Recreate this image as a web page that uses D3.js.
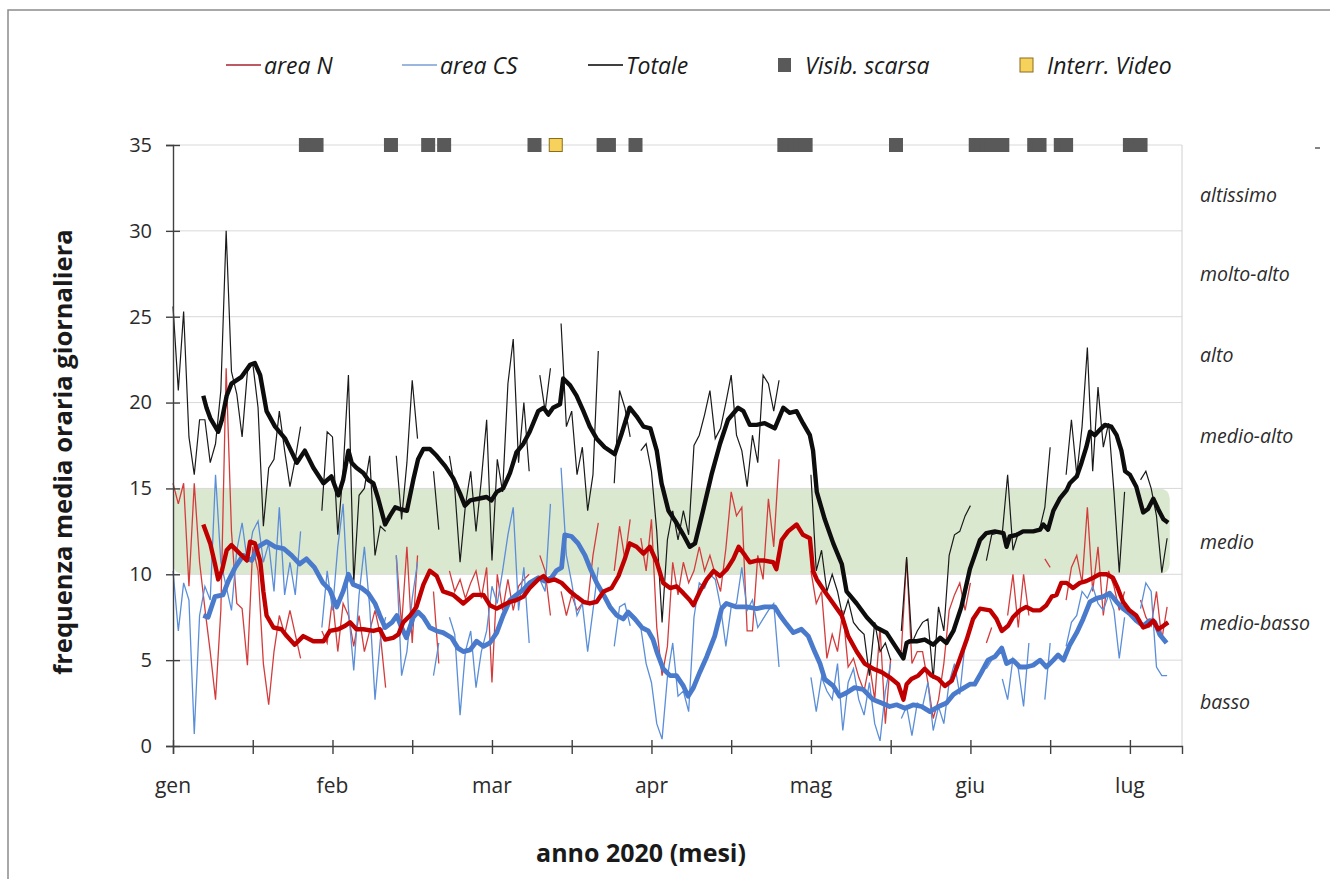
<!DOCTYPE html>
<html>
<head>
<meta charset="utf-8">
<script src="https://cdn.jsdelivr.net/npm/d3@7"></script>
<style>
  body { margin: 0; background: #fff; }
  svg { display: block; font-family: "Open Sans", sans-serif; }
</style>
</head>
<body>
<div id="chart"></div>
<script>

// giorni dal 1 gennaio (0 = gen), valori giornalieri grezzi, null = dato mancante
var areaN = [
  15.3,14.1,15.3,9.3,15.3,10.7,8.0,5.5,2.7,7.9,
  22.0,12.5,8.3,8.0,4.7,11.6,10.2,4.8,2.4,5.5,
  7.6,6.5,7.9,6.5,5.1,null,null,null,6.7,6.0,
  8.6,5.5,8.3,7.6,5.8,7.6,5.5,6.7,7.9,6.5,
  3.4,null,11.1,7.0,11.6,6.0,11.1,null,null,9.0,
  4.8,null,10.2,9.0,9.7,8.6,9.5,10.2,8.6,10.4,
  3.7,10.0,7.9,9.7,7.9,9.3,9.7,10.0,null,11.1,
  10.2,7.6,null,9.0,7.6,8.8,7.9,8.3,8.3,11.1,
  13.0,null,null,10.2,12.8,10.9,13.2,null,12.1,10.2,
  13.2,6.9,4.1,5.8,10.7,8.8,10.7,9.5,10.2,11.6,
  10.2,11.1,10.0,9.0,11.5,14.8,13.4,13.9,6.7,6.7,
  11.1,9.7,14.4,11.6,16.7,null,null,null,null,null,
  10.2,8.3,9.0,5.1,6.5,5.5,7.9,4.6,5.1,4.0,
  3.2,4.8,2.7,6.9,1.3,5.1,null,5.5,10.9,4.8,
  5.5,5.5,3.7,1.6,2.7,4.8,7.9,8.8,9.5,7.9,
  9.5,null,null,6.0,6.9,null,null,7.6,10.0,6.9,
  10.0,7.6,null,null,10.9,10.4,null,null,8.5,10.4,
  11.1,9.5,13.9,9.0,11.6,7.6,10.2,9.3,7.9,9.0,
  null,null,8.5,7.5,7.0,9.0,6.2,8.1
];

var areaCS = [
  10.2,6.7,9.5,8.5,0.7,7.6,9.3,8.5,15.8,10.7,
  9.3,7.9,11.4,13.0,10.7,12.5,13.1,10.7,11.8,9.0,
  13.9,8.8,10.7,8.8,12.5,null,null,null,6.9,10.2,
  7.9,11.6,14.1,8.0,4.4,8.8,11.6,8.1,2.7,6.2,
  7.5,null,11.1,4.1,5.5,8.6,10.7,null,null,4.1,
  6.0,null,7.5,6.5,1.8,5.5,6.7,3.4,5.5,6.7,
  9.3,8.3,10.2,12.3,13.9,7.9,10.4,6.0,null,9.7,
  9.0,14.1,null,16.2,11.1,9.5,7.6,8.3,5.5,7.9,
  10.4,null,null,5.8,8.1,8.3,7.0,null,6.9,4.8,
  3.7,1.3,0.4,4.0,6.0,2.9,3.2,2.0,7.5,9.5,
  9.2,10.0,9.7,8.1,5.8,8.1,8.3,10.4,7.9,8.5,
  6.9,7.4,7.9,8.3,4.6,null,null,null,null,null,
  4.0,2.0,4.0,3.2,2.7,4.8,0.9,3.7,4.5,2.7,
  1.8,3.7,1.3,0.3,3.2,4.8,null,1.6,2.3,0.6,
  2.5,2.3,3.7,0.9,2.3,1.3,3.7,4.8,3.0,6.0,
  6.7,null,null,4.5,5.0,null,3.9,2.7,5.1,4.5,
  2.3,6.0,null,null,2.7,6.0,null,null,5.8,7.2,
  7.6,9.0,8.6,9.3,8.3,7.9,8.8,7.9,5.1,7.5,
  null,null,8.0,9.5,9.0,4.6,4.1,4.1
];

var totale = [
  25.6,20.7,25.3,18.0,15.8,19.0,19.0,16.5,17.6,20.7,
  30.0,21.8,20.5,18.0,21.8,22.3,19.7,12.8,16.2,16.7,
  19.5,17.2,15.1,16.7,18.6,null,null,null,13.7,18.3,
  18.0,12.3,16.0,21.6,9.5,14.6,15.0,16.9,11.1,12.8,
  12.5,null,16.9,13.2,16.5,21.3,17.9,null,null,16.0,
  12.6,null,16.9,15.0,10.7,14.0,16.0,12.5,15.5,19.0,
  10.8,16.7,14.8,21.1,23.7,16.5,20.0,16.0,null,21.6,
  19.5,22.0,null,24.6,18.6,19.5,15.8,17.4,13.7,15.8,
  23.0,null,null,15.3,20.7,19.7,18.0,null,17.2,17.6,
  16.0,12.5,7.2,12.0,13.7,12.0,13.7,12.3,17.5,18.1,
  19.3,20.7,17.9,18.5,20.0,21.6,18.1,17.2,15.1,18.1,
  16.5,21.6,21.1,19.5,21.3,null,null,null,null,null,
  15.8,10.2,11.4,9.0,10.0,9.0,7.5,8.5,7.2,6.8,
  6.5,4.1,7.2,5.5,6.0,5.0,null,6.7,11.0,6.0,
  6.7,7.2,7.4,3.9,8.1,6.7,11.1,12.3,12.5,13.4,
  14.0,null,null,10.8,12.3,12.4,12.4,15.8,11.4,12.4,
  12.5,12.5,null,12.6,13.9,17.4,null,null,15.8,19.0,
  15.8,18.6,23.2,16.0,20.9,17.4,18.8,14.8,10.1,14.8,
  null,null,15.5,16.0,15.0,13.4,10.1,12.1
];

// medie mobili: [giorno, valore]
var mediaN = [
  [5.7,12.9],[7.0,11.8],[7.9,10.6],[8.5,9.7],[9.2,10.2],[10.1,11.4],[11.0,11.7],[12.6,11.2],[13.9,10.8],[14.5,11.9],
  [15.4,11.8],[16.4,10.8],[17.0,9.0],[17.6,7.6],[18.9,6.9],[20.4,6.8],[21.4,6.4],[22.9,5.9],[24.5,6.4],[26.4,6.1],
  [28.3,6.1],[29.5,6.7],[31.1,6.8],[32.4,7.0],[33.3,7.2],[34.5,6.8],[35.8,6.8],[37.7,6.7],[38.9,6.8],[39.9,6.2],
  [41.4,6.3],[42.4,6.5],[43.3,7.2],[44.6,7.6],[45.8,8.1],[47.1,9.4],[48.3,10.2],[49.6,9.9],[50.8,9.0],[52.7,8.8],
  [54.6,8.3],[56.5,8.8],[58.4,8.8],[59.6,8.2],[60.9,8.0],[62.1,8.2],[63.4,8.4],[64.6,8.5],[65.9,8.7],[67.1,9.2],
  [68.7,9.7],[69.7,9.9],[70.6,9.6],[71.8,9.7],[73.1,9.5],[74.7,9.0],[75.9,8.7],[77.2,8.4],[78.4,8.3],[79.7,8.4],
  [81.0,9.0],[82.5,9.2],[83.8,9.9],[85.0,10.9],[85.9,11.8],[87.2,11.6],[88.5,11.2],[89.7,11.6],[91.0,10.7],[92.2,9.5],
  [93.5,9.2],[94.7,9.3],[96.0,8.9],[97.2,8.5],[97.9,8.2],[99.1,9.0],[100.4,9.7],[101.7,10.2],[102.9,9.9],[104.2,10.3],
  [105.4,10.9],[106.4,11.6],[107.6,11.1],[108.5,10.7],[109.8,10.8],[111.3,10.8],[112.9,10.7],[113.5,10.3],[114.5,12.0],[115.7,12.5],
  [117.3,12.9],[118.5,12.3],[119.8,12.1],[120.4,10.2],[121.1,9.7],[122.6,9.0],[124.2,8.3],[125.8,7.6],[127.0,6.4],[128.6,5.5],
  [130.1,4.8],[131.7,4.5],[133.3,4.3],[134.8,4.0],[136.4,3.6],[137.4,2.7],[138.0,3.6],[138.9,3.9],[140.2,4.1],[141.4,4.5],
  [142.7,4.1],[144.0,3.9],[145.2,3.5],[146.5,3.8],[147.7,4.8],[149.3,6.2],[150.5,7.4],[151.8,8.0],[153.7,7.9],[154.9,7.4],
  [155.9,6.7],[157.1,7.0],[158.0,7.5],[159.3,7.9],[160.5,8.1],[161.8,7.9],[163.1,7.9],[164.3,8.2],[165.3,8.7],[166.2,8.8],
  [167.1,9.5],[168.1,9.5],[169.3,9.2],[170.6,9.5],[171.8,9.6],[173.1,9.8],[174.3,10.0],[175.6,10.0],[176.8,9.8],[177.7,9.2],
  [178.7,8.4],[179.9,7.9],[181.2,7.6],[182.5,6.9],[183.4,7.0],[184.4,7.3],[185.3,6.8],[186.3,7.0],[187.2,7.2]
];

var mediaCS = [
  [5.7,7.6],[6.6,7.5],[7.9,8.7],[9.4,8.8],[10.4,9.6],[11.7,10.4],[13.2,11.1],[14.8,10.8],[16.0,11.6],[17.6,11.9],
  [19.2,11.6],[20.8,11.5],[22.3,11.1],[23.8,10.6],[25.1,10.9],[26.6,10.4],[28.2,9.5],[29.5,9.1],[30.8,8.1],[32.0,9.0],
  [33.0,10.0],[33.9,9.4],[35.5,9.2],[36.7,8.9],[38.0,8.3],[38.9,7.6],[39.9,6.9],[41.2,7.2],[42.1,7.6],[43.0,6.9],
  [43.9,6.3],[45.2,7.5],[46.1,7.8],[47.1,7.5],[48.3,6.9],[49.6,6.7],[50.8,6.6],[52.4,6.3],[53.6,5.7],[54.6,5.5],
  [55.9,5.6],[57.1,6.1],[58.4,5.8],[59.6,6.0],[60.9,6.6],[62.1,7.6],[63.4,8.5],[64.6,8.8],[65.9,9.1],[67.1,9.5],
  [68.7,9.8],[69.9,9.6],[71.2,9.8],[72.1,10.2],[73.1,10.4],[73.7,12.3],[75.0,12.2],[76.2,11.8],[77.5,11.1],[78.4,10.4],
  [79.7,9.5],[81.0,8.8],[82.2,8.1],[83.5,7.6],[84.7,7.4],[85.6,7.8],[86.9,7.4],[88.2,6.9],[89.4,6.7],[90.3,6.2],
  [91.0,5.5],[92.2,4.5],[93.5,4.1],[94.7,4.1],[96.0,3.5],[96.9,2.9],[97.9,3.4],[99.1,4.3],[100.4,5.2],[101.9,6.4],
  [103.2,8.0],[104.1,8.3],[106.0,8.1],[107.9,8.1],[109.8,8.0],[111.3,8.1],[113.2,8.1],[114.2,7.6],[115.4,7.1],[116.7,6.6],
  [118.2,6.8],[119.5,6.4],[120.7,5.5],[121.7,4.8],[122.6,3.9],[124.2,3.5],[125.4,2.9],[126.7,3.1],[128.2,3.4],[129.8,3.3],
  [131.7,2.7],[133.3,2.5],[134.8,2.3],[136.1,2.4],[137.7,2.2],[139.3,2.4],[140.8,2.3],[142.4,2.0],[144.0,2.3],[145.5,2.5],
  [146.8,3.0],[148.3,3.3],[149.9,3.6],[150.8,3.6],[152.1,4.3],[153.3,5.0],[154.6,5.2],[155.9,5.7],[156.8,4.8],[158.0,5.0],
  [159.3,4.6],[160.5,4.6],[161.8,4.7],[163.1,5.0],[164.3,4.6],[165.6,5.0],[166.5,5.3],[167.5,5.0],[168.7,5.9],[170.0,6.6],
  [171.2,7.4],[172.5,8.4],[173.7,8.6],[175.0,8.7],[176.2,8.9],[177.5,8.4],[178.7,8.0],[180.0,7.7],[181.2,7.3],[182.5,7.0],
  [183.7,7.3],[184.7,7.2],[185.6,6.5],[186.9,6.0]
];

var mediaTot = [
  [5.7,20.4],[6.3,19.7],[7.0,19.1],[8.5,18.3],[9.2,19.0],[10.1,20.4],[11.0,21.1],[12.9,21.5],[14.5,22.2],[15.4,22.3],
  [16.4,21.6],[17.6,19.5],[19.2,18.6],[21.1,17.9],[23.3,16.5],[24.8,17.2],[26.4,16.2],[28.3,15.3],[29.8,15.7],[31.1,14.6],
  [32.0,15.5],[33.0,17.2],[33.6,16.5],[34.5,16.2],[35.8,15.9],[36.7,15.5],[37.7,15.3],[38.6,14.4],[39.9,12.9],[40.8,13.4],
  [41.8,13.9],[42.7,13.8],[44.0,13.7],[45.2,15.5],[46.1,16.7],[47.1,17.3],[48.3,17.3],[49.6,16.9],[51.2,16.3],[52.7,15.6],
  [54.0,14.7],[54.9,14.0],[55.9,14.3],[57.4,14.4],[59.0,14.5],[59.9,14.3],[60.9,14.8],[62.1,15.0],[63.4,15.9],[64.6,17.1],
  [65.9,17.6],[67.1,18.3],[68.7,19.5],[69.7,19.7],[70.6,19.3],[71.5,19.7],[72.8,19.9],[73.4,21.4],[74.7,21.0],[75.9,20.4],
  [77.2,19.5],[78.4,18.6],[79.7,17.9],[81.2,17.4],[83.1,17.0],[84.4,18.2],[85.9,19.7],[87.2,19.2],[88.5,18.6],[89.8,18.5],
  [91.0,17.2],[91.9,15.3],[93.2,13.7],[94.7,13.0],[96.0,12.3],[97.2,11.6],[98.2,11.8],[99.7,13.7],[101.3,15.8],[102.9,17.6],
  [104.4,19.0],[106.3,19.7],[107.3,19.5],[108.5,18.7],[109.8,18.7],[111.3,18.8],[113.2,18.5],[114.8,19.7],[116.0,19.4],[117.3,19.5],
  [118.5,18.8],[119.8,18.1],[120.4,17.2],[121.1,14.8],[122.6,13.2],[124.2,11.8],[125.8,10.6],[126.7,9.0],[128.6,8.3],[130.5,7.5],
  [132.3,6.9],[134.2,6.6],[136.1,5.7],[137.4,5.1],[138.0,6.0],[138.6,6.1],[139.9,6.1],[141.4,6.2],[143.0,5.9],[144.3,6.3],
  [145.5,6.0],[146.8,6.7],[148.3,8.1],[149.9,10.3],[150.8,11.1],[151.8,12.0],[153.0,12.4],[154.6,12.5],[156.2,12.4],[156.8,11.6],
  [157.4,12.2],[158.7,12.3],[159.9,12.5],[161.8,12.5],[163.1,12.6],[163.7,12.9],[164.6,12.6],[165.6,13.7],[166.8,14.4],[168.1,14.9],
  [168.7,15.3],[170.0,15.7],[170.9,16.5],[171.8,17.4],[172.5,18.3],[173.4,18.1],[174.3,18.4],[175.3,18.7],[176.5,18.6],[177.5,18.1],
  [178.4,17.2],[179.1,16.0],[180.0,15.8],[181.2,15.1],[182.5,13.6],[183.4,13.8],[184.4,14.4],[185.3,13.8],[186.3,13.2],[187.2,13.0]
];

// giorni con visibilita scarsa / interruzione video (marcatori a quota 35)
var giorniVisibScarsa = [25,26,27,41,48,51,68,81,82,87,115,116,117,118,119,136,151,152,153,154,155,156,162,163,167,168,180,181,182];
var giorniInterrVideo = [72];

var mesi = ["gen","feb","mar","apr","mag","giu","lug"];
var yTicks = [0,5,10,15,20,25,30,35];
var livelli = ["altissimo","molto-alto","alto","medio-alto","medio","medio-basso","basso"];
var livelliQuota = [32.1,27.5,22.8,18.1,11.9,7.2,2.6];
var fasciaMedia = [10,15];


var width = 1330, height = 879;
var plotLeft = 173, plotRight = 1182, plotTop = 145, plotBottom = 746;

var svg = d3.select("#chart")
  .append("svg")
    .attr("width", width)
    .attr("height", height);

var x = d3.scaleLinear().domain([0, 189.8]).range([plotLeft, plotRight]);
var y = d3.scaleLinear().domain([0, 35]).range([plotBottom, plotTop]);

// cornice esterna
svg.append("path")
  .attr("d", "M8,879 L8,10 L1330,10")
  .attr("fill", "none").attr("stroke", "#8c8c8c").attr("stroke-width", 1.5);

// fascia "medio"
svg.append("rect")
  .attr("x", plotLeft).attr("y", y(fasciaMedia[1]))
  .attr("width", x(187.5) - plotLeft).attr("height", y(fasciaMedia[0]) - y(fasciaMedia[1]))
  .attr("rx", 10)
  .attr("fill", "#dbe8d0");

// griglia
svg.append("g")
  .selectAll("line")
  .data(yTicks.slice(1))
  .enter().append("line")
    .attr("x1", plotLeft).attr("x2", plotRight)
    .attr("y1", function(d) { return y(d); }).attr("y2", function(d) { return y(d); })
    .attr("stroke", "#d9d9d9").attr("stroke-width", 1);

svg.append("line")
  .attr("x1", plotRight).attr("x2", plotRight).attr("y1", plotTop).attr("y2", plotBottom)
  .attr("stroke", "#d0d0d0").attr("stroke-width", 1);

var rawLine = d3.line()
  .defined(function(d) { return d != null; })
  .x(function(d, i) { return x(i); })
  .y(function(d) { return y(d); });

var meanLine = d3.line()
  .x(function(d) { return x(d[0]); })
  .y(function(d) { return y(d[1]); });

svg.append("path").datum(areaN).attr("d", rawLine)
  .attr("fill", "none").attr("stroke", "#d43c3c").attr("stroke-width", 1.3);
svg.append("path").datum(areaCS).attr("d", rawLine)
  .attr("fill", "none").attr("stroke", "#5b8ed8").attr("stroke-width", 1.3);
svg.append("path").datum(totale).attr("d", rawLine)
  .attr("fill", "none").attr("stroke", "#1a1a1a").attr("stroke-width", 1.2);

svg.append("path").datum(mediaCS).attr("d", meanLine)
  .attr("fill", "none").attr("stroke", "#4a7acb").attr("stroke-width", 4.8)
  .attr("stroke-linejoin", "round");
svg.append("path").datum(mediaN).attr("d", meanLine)
  .attr("fill", "none").attr("stroke", "#c00000").attr("stroke-width", 4.4)
  .attr("stroke-linejoin", "round");
svg.append("path").datum(mediaTot).attr("d", meanLine)
  .attr("fill", "none").attr("stroke", "#0d0d0d").attr("stroke-width", 4.4)
  .attr("stroke-linejoin", "round");

// assi
var yAxis = svg.append("g")
  .attr("transform", "translate(" + plotLeft + ",0)")
  .call(d3.axisLeft(y).tickValues(yTicks).tickSize(7).tickPadding(14));
svg.append("g")
  .attr("transform", "translate(" + plotLeft + ",0)")
  .call(d3.axisLeft(y).tickValues(yTicks).tickSize(-7).tickFormat(""))
  .select(".domain").remove();

var xTicks = d3.range(0, 181, 15);
svg.append("g")
  .attr("transform", "translate(0," + plotBottom + ")")
  .call(d3.axisBottom(x).tickValues(xTicks).tickSize(8).tickFormat(""));
svg.append("g")
  .attr("transform", "translate(0," + plotBottom + ")")
  .call(d3.axisBottom(x).tickValues(xTicks).tickSize(-6).tickFormat(""))
  .select(".domain").remove();

svg.selectAll(".domain, .tick line")
  .attr("stroke", "#404040").attr("stroke-width", 1.4);
yAxis.selectAll("text")
  .style("font-size", "20px").style("font-family", "Open Sans").attr("fill", "#2b2b2b");

svg.append("g")
  .selectAll("text")
  .data(mesi)
  .enter().append("text")
    .attr("x", function(d, i) { return x(i * 30); })
    .attr("y", 785)
    .attr("text-anchor", "middle")
    .attr("dominant-baseline", "central")
    .style("font-size", "21px")
    .attr("fill", "#2b2b2b")
    .text(function(d) { return d; });

// marcatori a quota 35
svg.append("g")
  .selectAll("rect")
  .data(giorniVisibScarsa)
  .enter().append("rect")
    .attr("x", function(d) { return x(d) - 7; })
    .attr("y", y(35) - 7)
    .attr("width", 14).attr("height", 14)
    .attr("fill", "#595959");
svg.append("g")
  .selectAll("rect")
  .data(giorniInterrVideo)
  .enter().append("rect")
    .attr("x", function(d) { return x(d) - 6.5; })
    .attr("y", y(35) - 6.5)
    .attr("width", 13).attr("height", 13)
    .attr("fill", "#f6d25c").attr("stroke", "#8a6d1c").attr("stroke-width", 1);

svg.append("line")
  .attr("x1", 1315).attr("x2", 1320).attr("y1", 148).attr("y2", 148)
  .attr("stroke", "#333").attr("stroke-width", 1.2);

// etichette dei livelli
svg.append("g")
  .selectAll("text")
  .data(livelli)
  .enter().append("text")
    .attr("x", 1200)
    .attr("y", function(d, i) { return y(livelliQuota[i]); })
    .attr("dominant-baseline", "central")
    .style("font-size", "19.5px").style("font-style", "italic")
    .attr("fill", "#2b2b2b")
    .text(function(d) { return d; });

// legenda
var legendLines = [
  {label: "area N", color: "#a8232f", x: 226},
  {label: "area CS", color: "#7a9fd6", x: 402},
  {label: "Totale", color: "#000", x: 588}
];
var legendBoxes = [
  {label: "Visib. scarsa", color: "#595959", stroke: "none", x: 778},
  {label: "Interr. Video", color: "#f6d25c", stroke: "#8a6d1c", x: 1020}
];
var legY = 65;
legendLines.forEach(function(d) {
  svg.append("line")
    .attr("x1", d.x).attr("x2", d.x + 35).attr("y1", legY).attr("y2", legY)
    .attr("stroke", d.color).attr("stroke-width", 1.6);
  svg.append("text")
    .attr("x", d.x + 38).attr("y", legY)
    .attr("dominant-baseline", "central")
    .style("font-size", "23px").style("font-style", "italic")
    .attr("fill", "#1a1a1a")
    .text(d.label);
});
legendBoxes.forEach(function(d) {
  svg.append("rect")
    .attr("x", d.x).attr("y", legY - 7).attr("width", 13).attr("height", 14)
    .attr("fill", d.color).attr("stroke", d.stroke);
  svg.append("text")
    .attr("x", d.x + 27).attr("y", legY)
    .attr("dominant-baseline", "central")
    .style("font-size", "23px").style("font-style", "italic")
    .attr("fill", "#1a1a1a")
    .text(d.label);
});

// titoli degli assi
svg.append("text")
  .attr("transform", "translate(62,452) rotate(-90)")
  .attr("text-anchor", "middle")
  .attr("dominant-baseline", "central")
  .style("font-size", "25.5px").style("font-weight", "bold")
  .attr("fill", "#1a1a1a")
  .text("frequenza media oraria giornaliera");

svg.append("text")
  .attr("x", 641).attr("y", 852)
  .attr("text-anchor", "middle")
  .attr("dominant-baseline", "central")
  .style("font-size", "25px").style("font-weight", "bold")
  .attr("fill", "#1a1a1a")
  .text("anno 2020 (mesi)");

</script>
</body>
</html>
